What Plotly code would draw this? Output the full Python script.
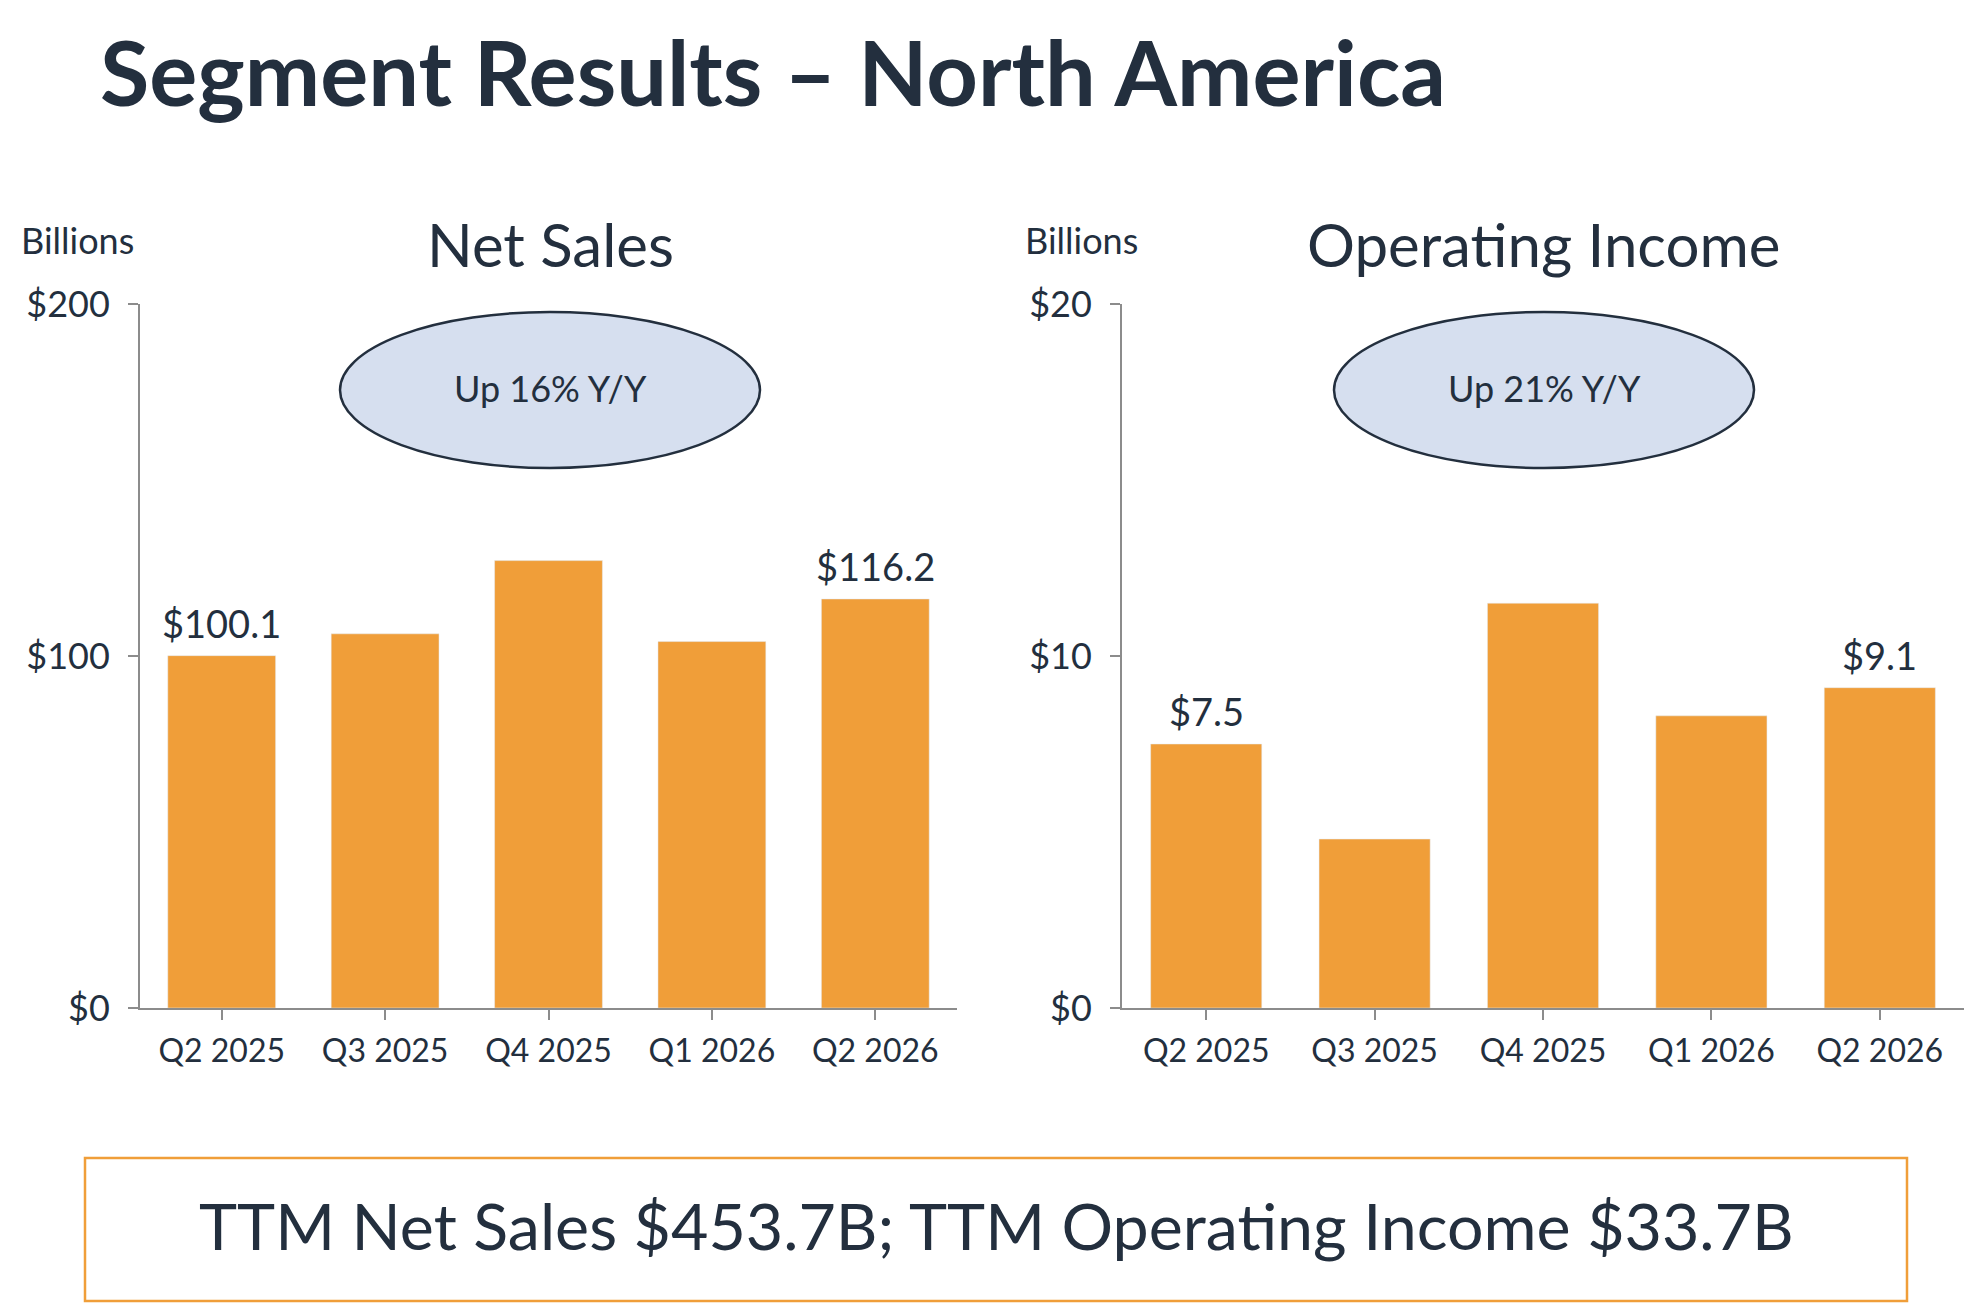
import plotly.graph_objects as go

# datos (miles de millones USD)
trimestres = ["Q2 2025", "Q3 2025", "Q4 2025", "Q1 2026", "Q2 2026"]
ventas_netas = [100.1, 106.3, 127.1, 104.1, 116.2]
ingreso_operativo = [7.5, 4.8, 11.5, 8.3, 9.1]
ticks_ventas = [0, 100, 200]
ticks_ingreso = [0, 10, 20]

titulo = "Segment Results \u2013 North America"
resumen = "TTM Net Sales $453.7B; TTM Operating Income $33.7B"
crec_ventas = "Up 16% Y/Y"
crec_ingreso = "Up 21% Y/Y"

W, H = 1978, 1312
OFF = 8  # margen del body de la pagina
TXT = "#232F3E"
NARANJA = "#F09E39"
GRIS = "#8C8C8C"
FUENTE = "Lato"


def px_x(x):
    return (x - OFF) / W


def px_y(y):
    return 1 - (y - OFF) / H


fig = go.Figure()

fig.add_trace(go.Bar(x=trimestres, y=ventas_netas, marker_color=NARANJA,
                     xaxis="x", yaxis="y", showlegend=False))
fig.add_trace(go.Bar(x=trimestres, y=ingreso_operativo, marker_color=NARANJA,
                     xaxis="x2", yaxis="y2", showlegend=False))

eje_x = dict(showline=True, linecolor=GRIS, linewidth=2, ticks="outside", ticklen=10,
             tickcolor=GRIS, tickwidth=2, showgrid=False, zeroline=False, automargin=False,
             tickfont=dict(size=32, color=TXT, family=FUENTE), ticklabelstandoff=4)
eje_y = dict(showline=True, linecolor=GRIS, linewidth=2, ticks="outside", ticklen=10,
             tickcolor=GRIS, tickwidth=2, showgrid=False, zeroline=False, automargin=False,
             tickfont=dict(size=36, color=TXT, family=FUENTE), ticklabelstandoff=11)

fig.update_layout(
    width=W, height=H,
    margin=dict(l=0, r=0, t=0, b=0, pad=0),
    paper_bgcolor="white", plot_bgcolor="white",
    bargap=0.34,
    xaxis=dict(eje_x, domain=[px_x(140), px_x(957)], anchor="y"),
    yaxis=dict(eje_y, domain=[px_y(1008), px_y(304)], range=[0, 200],
               tickvals=ticks_ventas, ticktext=[f"${v}" for v in ticks_ventas], anchor="x"),
    xaxis2=dict(eje_x, domain=[px_x(1122), px_x(1964)], anchor="y2"),
    yaxis2=dict(eje_y, domain=[px_y(1008), px_y(304)], range=[0, 20],
                tickvals=ticks_ingreso, ticktext=[f"${v}" for v in ticks_ingreso], anchor="x2"),
)

# etiquetas de valor solo en la primera y la ultima barra
for ejes, valores in (("", ventas_netas), ("2", ingreso_operativo)):
    for i in (0, len(valores) - 1):
        fig.add_annotation(x=trimestres[i], y=valores[i], xref="x" + ejes, yref="y" + ejes,
                           text=f"${valores[i]:.1f}", showarrow=False, yanchor="bottom",
                           yshift=8, font=dict(size=38, color=TXT, family=FUENTE))

# elipses de crecimiento
for cx in (550, 1544):
    fig.add_shape(type="circle", xref="paper", yref="paper",
                  x0=px_x(cx - 210), x1=px_x(cx + 210), y0=px_y(468), y1=px_y(312),
                  fillcolor="#D6DFEF", line=dict(color=TXT, width=2.5), layer="above")

# recuadro inferior
fig.add_shape(type="rect", xref="paper", yref="paper",
              x0=px_x(85), x1=px_x(1907), y0=px_y(1301), y1=px_y(1158),
              line=dict(color=NARANJA, width=2.5), fillcolor="rgba(0,0,0,0)")

textos = [
    (titulo, 98, 71, 90, "left", True),
    ("Net Sales", 550, 244, 60, "center", False),
    ("Operating Income", 1544, 244, 60, "center", False),
    ("Billions", 19, 240, 36, "left", False),
    ("Billions", 1023, 240, 36, "left", False),
    (crec_ventas, 550, 388, 36, "center", False),
    (crec_ingreso, 1544, 388, 36, "center", False),
    (resumen, 996, 1225, 64.5, "center", False),
]
for t, x, y, s, anc, negrita in textos:
    fig.add_annotation(text=f"<b>{t}</b>" if negrita else t, x=px_x(x), y=px_y(y),
                       xref="paper", yref="paper", xanchor=anc, yanchor="middle",
                       showarrow=False, font=dict(size=s, color=TXT, family=FUENTE))

fig.write_html("out.html")
